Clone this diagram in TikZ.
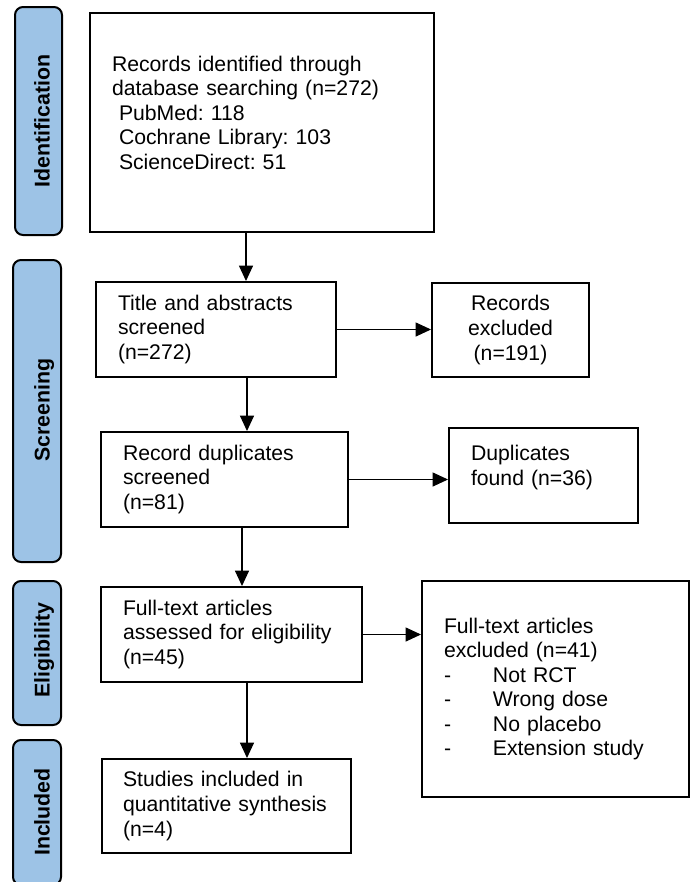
\documentclass[tikz,border=0pt]{standalone}
\usepackage{fontspec}
\setmainfont{Liberation Sans}
\usetikzlibrary{arrows.meta}
\definecolor{barblue}{HTML}{9DC3E6}
\frenchspacing
\begin{document}
\begin{tikzpicture}[x=0.75pt,y=-0.75pt,
  txt/.style={font=\fontsize{15.9pt}{18.4pt}\selectfont},
  box/.style={draw, line width=1.5pt, inner sep=0pt, txt, align=left},
  cbox/.style={draw, line width=1.5pt, inner sep=0pt, txt, align=center},
  bar/.style={draw, line width=1.5pt, fill=barblue, rounded corners=6pt, inner sep=0pt},
  bartext/.style={rotate=90, anchor=base, font=\fontsize{16pt}{19pt}\selectfont\bfseries, inner sep=0pt},
  arr/.style={line width=0.8pt, -{Triangle[length=11.5pt,width=10.5pt]}}
]
\useasboundingbox (0,0) rectangle (691,882);

% side bars
\node[bar, minimum width=35.25pt, minimum height=171pt] (s1) at (38.5,121) {};
\node[bar, minimum width=36pt, minimum height=226.5pt] (s2) at (37,411) {};
\node[bar, minimum width=36pt, minimum height=108pt] (s3) at (37,653) {};
\begin{scope}
\clip (0,0) rectangle (691,882);
\node[bar, minimum width=36pt, minimum height=108.75pt] (s4) at (37,812.5) {};
\end{scope}
\node[bartext] (t1) at (49.5,121) {Identification};
\node[bartext] (t2) at (49.5,410) {Screening};
\node[bartext] (t3) at (49.5,650) {Eligibility};
\node[bartext] (t4) at (49.5,812) {Included};

% main boxes
\node[box, text width=225pt, minimum width=258pt, minimum height=164.25pt] (ident) at (262,122.5)
  {Records identified through\\database searching (n=272)\\\hspace*{5.25pt}PubMed: 118\\\hspace*{5.25pt}Cochrane Library: 103\\\hspace*{5.25pt}ScienceDirect: 51\\[-3.4pt]\mbox{}};
\node[box, text width=147pt, minimum width=180pt, minimum height=71.25pt] (title) at (216,329.5)
  {Title and abstracts\\screened\\(n=272)};
\node[cbox, minimum width=117.75pt, minimum height=70.5pt] (excl1) at (510.5,330)
  {Records\\excluded\\(n=191)};
\node[box, text width=152.25pt, minimum width=185.25pt, minimum height=71.25pt] (dupscr) at (224.5,479.5)
  {Record duplicates\\screened\\(n=81)};
\node[box, text width=108.75pt, minimum width=141.75pt, minimum height=71.25pt] (dup) at (543.5,475.5)
  {Duplicates\\found (n=36)\\[-3.4pt]\mbox{}};
\node[box, text width=162.75pt, minimum width=195.75pt, minimum height=71.25pt] (full) at (231.5,634.5)
  {Full-text articles\\assessed for eligibility\\(n=45)};
\node[box, text width=167.25pt, minimum width=200.25pt, minimum height=162pt] (excl2) at (555.5,689)
  {Full-text articles\\excluded (n=41)\\\makebox[36.75pt][l]{-}Not RCT\\\makebox[36.75pt][l]{-}Wrong dose\\\makebox[36.75pt][l]{-}No placebo\\\makebox[36.75pt][l]{-}Extension study};
\node[box, text width=155.25pt, minimum width=186.75pt, minimum height=70.5pt] (incl) at (226.5,806)
  {Studies included in\\quantitative synthesis\\(n=4)};

% connectors
\coordinate (a1) at (246,0);
\coordinate (a2) at (247,0);
\coordinate (a3) at (242,0);
\coordinate (a4) at (247,0);
\draw[arr] (ident.south -| a1) -- (title.north -| a1);
\draw[arr] (title.south -| a2) -- (dupscr.north -| a2);
\draw[arr] (dupscr.south -| a3) -- (full.north -| a3);
\draw[arr] (full.south -| a4) -- (incl.north -| a4);
\draw[arr] (title.east) -- (title.east -| excl1.west);
\draw[arr] (dupscr.east) -- (dupscr.east -| dup.west);
\draw[arr] (full.east) -- (full.east -| excl2.west);
\end{tikzpicture}
\end{document}
